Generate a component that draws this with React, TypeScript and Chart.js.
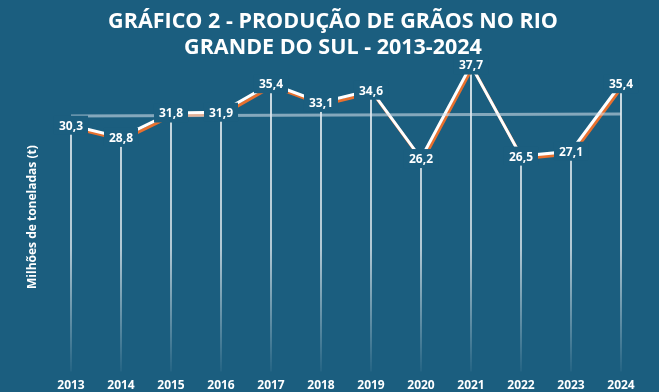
import React, { useEffect, useRef } from "react";
import { Chart, registerables } from "chart.js";

Chart.register(...registerables);

const years = ["2013", "2014", "2015", "2016", "2017", "2018", "2019", "2020", "2021", "2022", "2023", "2024"];
const production = [30.3, 28.8, 31.8, 31.9, 35.4, 33.1, 34.6, 26.2, 37.7, 26.5, 27.1, 35.4];
const trendLine = [31.44, null, null, null, null, null, null, null, null, null, null, 31.69];
const titleLines = ["GRÁFICO 2 - PRODUÇÃO DE GRÃOS NO RIO", "GRANDE DO SUL - 2013-2024"];
const yTitle = "Milhões de toneladas (t)";

const BG = "#1b5e7f";
const ORANGE = "#e8702e";
const FONT = "'Open Sans', sans-serif";

const shadowPlugin = {
  id: "lineShadow",
  beforeDatasetDraw(chart: any, args: any) {
    if (chart.data.datasets[args.index].label === "Produção") {
      const c = chart.ctx;
      c.save();
      c.shadowColor = ORANGE;
      c.shadowOffsetX = 1.5;
      c.shadowOffsetY = 2.5;
      c.shadowBlur = 0;
    }
  },
  afterDatasetDraw(chart: any, args: any) {
    if (chart.data.datasets[args.index].label === "Produção") {
      chart.ctx.restore();
    }
  },
};

const labelPlugin = {
  id: "valueLabels",
  afterDatasetsDraw(chart: any) {
    const idx = chart.data.datasets.findIndex((d: any) => d.label === "Produção");
    const meta = chart.getDatasetMeta(idx);
    const c = chart.ctx;
    c.save();
    c.font = `bold 12px ${FONT}`;
    c.textAlign = "center";
    c.textBaseline = "middle";
    meta.data.forEach((pt: any, i: number) => {
      const txt = production[i].toFixed(1).replace(".", ",");
      const w = c.measureText(txt).width + 10;
      const h = 19;
      c.fillStyle = BG;
      c.fillRect(pt.x - w / 2, pt.y - h / 2, w, h);
      c.fillStyle = "#ffffff";
      c.fillText(txt, pt.x, pt.y + 1);
    });
    c.restore();
  },
};

export default function App() {
  const ref = useRef<HTMLCanvasElement>(null);
  useEffect(() => {
    if (!ref.current) return;
    const chart = new Chart(ref.current, {
      data: {
        labels: years,
        datasets: [
          {
            type: "bar",
            label: "Linhas",
            data: production,
            barThickness: 1,
            order: 3,
            backgroundColor: (ctx: any) => {
              const { chart } = ctx;
              const area = chart.chartArea;
              if (!area) return "rgba(255,255,255,0.8)";
              const g = chart.ctx.createLinearGradient(0, area.top, 0, area.bottom);
              g.addColorStop(0, "rgba(255,255,255,0.95)");
              g.addColorStop(0.6, "rgba(255,255,255,0.8)");
              g.addColorStop(1, "rgba(255,255,255,0.05)");
              return g;
            },
          } as any,
          {
            type: "line",
            label: "Produção",
            data: production,
            borderColor: "#ffffff",
            borderWidth: 3,
            pointRadius: 0,
            tension: 0,
            order: 2,
            clip: false,
          } as any,
          {
            type: "line",
            label: "Tendência",
            data: trendLine,
            borderColor: "rgba(220,230,238,0.55)",
            borderWidth: 3,
            pointRadius: 0,
            spanGaps: true,
            order: 1,
          } as any,
        ],
      },
      options: {
        animation: false,
        responsive: true,
        maintainAspectRatio: false,
        layout: { padding: { left: 20, right: 13, bottom: -8, top: 0 } },
        plugins: {
          legend: { display: false },
          tooltip: { enabled: false },
          title: {
            display: true,
            text: titleLines,
            color: "#ffffff",
            font: { family: FONT, size: 21.5, weight: "bold", lineHeight: 1.23 },
            padding: { top: 8.3, bottom: 1.4 },
          },
        },
        scales: {
          x: {
            offset: true,
            grid: { display: false, drawTicks: false, tickLength: 0 },
            border: { display: false },
            ticks: { color: "#ffffff", font: { family: FONT, size: 12, weight: "bold" }, padding: 7 },
          },
          y: {
            min: 0,
            max: 38,
            grid: { display: false, drawTicks: false, tickLength: 0 },
            border: { display: false },
            ticks: { display: false },
            title: {
              display: true,
              text: yTitle,
              color: "#ffffff",
              font: { family: FONT, size: 12, weight: "bold" },
              padding: { top: 5, bottom: 6.6 },
            },
          },
        },
      },
      plugins: [shadowPlugin, labelPlugin],
    } as any);
    return () => chart.destroy();
  }, []);
  return (
    <div style={{ position: "absolute", left: 0, top: 0, width: 659, height: 392, background: BG }}>
      <canvas ref={ref} />
    </div>
  );
}
